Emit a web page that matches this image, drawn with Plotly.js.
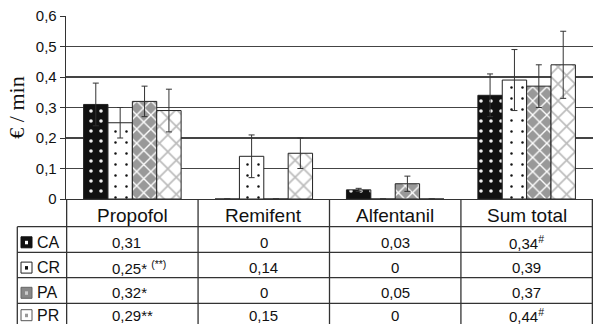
<!DOCTYPE html>
<html>
<head>
<meta charset="utf-8">
<script src="https://cdn.plot.ly/plotly-3.0.1.min.js"></script>
<style>html,body{margin:0;padding:0;background:#fff;}#chart{width:593px;height:324px;}</style>
</head>
<body>
<div id="chart"></div>
<script>
// ---- data ----
var categories = ["Propofol", "Remifent", "Alfentanil", "Sum total"];
var seriesNames = ["CA", "CR", "PA", "PR"];
var valuesCA = [0.31, 0, 0.03, 0.34];
var valuesCR = [0.25, 0.14, 0, 0.39];
var valuesPA = [0.32, 0, 0.05, 0.37];
var valuesPR = [0.29, 0.15, 0, 0.44];
var errorsCA = [0.07, 0, 0.005, 0.07];
var errorsCR = [0.05, 0.07, 0, 0.10];
var errorsPA = [0.05, 0, 0.025, 0.07];
var errorsPR = [0.07, 0.05, 0, 0.11];
var tableCA = ["0,31", "0", "0,03", "0,34<sup>#</sup>"];
var tableCR = ["0,25* <sup>(**)</sup>", "0,14", "0", "0,39"];
var tablePA = ["0,32*", "0", "0,05", "0,37"];
var tablePR = ["0,29**", "0,15", "0", "0,44<sup>#</sup>"];
var yTickVals = [0, 0.1, 0.2, 0.3, 0.4, 0.5, 0.6];
var yTickText = ["0", "0,1", "0,2", "0,3", "0,4", "0,5", "0,6"];
var yTitle = "€ / min";

// ---- styling ----
var W = 593, H = 324, L = 66, R = 0, T = 16, B = 125;
var plotW = W - L - R, plotH = H - T - B;
function px(x) { return (x - L) / plotW; }
function py(y) { return (H - B - y) / plotH; }
var lineCol = "#333";
var sans = "Liberation Sans, Arial, sans-serif";

var values = [valuesCA, valuesCR, valuesPA, valuesPR];
var errors = [errorsCA, errorsCR, errorsPA, errorsPR];
var tables = [tableCA, tableCR, tablePA, tablePR];
var patterns = [
  {shape: ".", bgcolor: "#111", fgcolor: "#eee", size: 10, solidity: 0.1, fillmode: "replace"},
  {shape: ".", bgcolor: "#fff", fgcolor: "#111", size: 11, solidity: 0.04, fillmode: "replace"},
  {shape: "x", bgcolor: "#999", fgcolor: "#fff", size: 10, solidity: 0.25, fillmode: "replace"},
  {shape: "x", bgcolor: "#fff", fgcolor: "#bbb", size: 12, solidity: 0.25, fillmode: "replace"}
];

var traces = seriesNames.map(function (name, i) {
  return {
    type: "bar", name: name, x: categories, y: values[i],
    marker: {color: patterns[i].bgcolor, pattern: patterns[i], line: {color: "#222", width: 1}},
    error_y: {type: "data", array: errors[i], visible: true, color: "#333", thickness: 1, width: 3},
    showlegend: false, hoverinfo: "skip"
  };
});

var shapes = [], annotations = [];
// table vertical lines at category boundaries
for (var c = 0; c <= categories.length; c++) {
  shapes.push({type: "line", xref: "x", yref: "paper", x0: c - 0.5, x1: c - 0.5,
    y0: py(199), y1: py(H + 2), line: {color: lineCol, width: 1.3}});
}
// left border of row-label column
shapes.push({type: "line", xref: "paper", yref: "paper", x0: px(17.3), x1: px(17.3),
  y0: py(226.7), y1: py(H + 2), line: {color: lineCol, width: 1.3}});
var rowLines = [226.7, 252.3, 277.7, 303.3];
rowLines.forEach(function (yy) {
  shapes.push({type: "line", xref: "paper", yref: "paper", x0: px(17.3), x1: 1,
    y0: py(yy), y1: py(yy), line: {color: lineCol, width: 1.3}});
});
var rowCenters = [242.3, 267.6, 292.8, 315.2];
var sw = [
  {fill: "#111", dot: "#fff", border: "#111"},
  {fill: "#fff", dot: "#111", border: "#222"},
  {fill: "#888", dot: "#ccc", border: "#666"},
  {fill: "#fff", dot: "#999", border: "#555"}
];
seriesNames.forEach(function (name, r) {
  var yc = rowCenters[r];
  shapes.push({type: "rect", xref: "paper", yref: "paper", x0: px(21), x1: px(32),
    y0: py(yc + 5.5), y1: py(yc - 5.5), fillcolor: sw[r].fill, line: {color: sw[r].border, width: 1}});
  shapes.push({type: "rect", xref: "paper", yref: "paper", x0: px(25), x1: px(28),
    y0: py(yc + 2), y1: py(yc - 1.5), fillcolor: sw[r].dot, line: {width: 0}});
  annotations.push({xref: "paper", yref: "paper", x: px(35), y: py(yc), text: name,
    xanchor: "left", yanchor: "middle", showarrow: false, font: {family: sans, size: 16, color: "#111"}});
  tables[r].forEach(function (t, c) {
    var isFirst = (c === 0);
    annotations.push({xref: isFirst ? "paper" : "x", yref: "paper",
      x: isFirst ? px(110) : categories[c], y: py(yc), text: t,
      xanchor: isFirst ? "left" : "center", yanchor: "middle", showarrow: false,
      font: {family: sans, size: 15, color: "#111"}});
  });
});
// header labels
categories.forEach(function (cat) {
  annotations.push({xref: "x", yref: "paper", x: cat, y: py(215), text: cat,
    xanchor: "center", yanchor: "middle", showarrow: false, font: {family: sans, size: 19, color: "#111"}});
});

var layout = {
  width: W, height: H,
  margin: {l: L, r: R, t: T, b: B, pad: 0},
  paper_bgcolor: "#fff", plot_bgcolor: "#fff",
  barmode: "group", bargap: 0.258, bargroupgap: 0,
  xaxis: {type: "category", showticklabels: false, ticks: "", showgrid: false,
    showline: true, linecolor: lineCol, linewidth: 1.3, zeroline: false, fixedrange: true},
  yaxis: {range: [0, 0.6], tickvals: yTickVals, ticktext: yTickText, ticks: "outside",
    ticklen: 5, tickcolor: lineCol, showline: true, linecolor: lineCol, linewidth: 1.3,
    showgrid: true, gridcolor: "#444", gridwidth: 1.2, zeroline: false,
    tickfont: {family: sans, size: 15, color: "#111"},
    title: {text: yTitle, font: {family: "Liberation Serif, Times New Roman, serif", size: 22, color: "#111"}, standoff: 5}},
  shapes: shapes, annotations: annotations,
  font: {family: sans}
};

Plotly.newPlot("chart", traces, layout, {staticPlot: true, displayModeBar: false});
</script>
</body>
</html>
